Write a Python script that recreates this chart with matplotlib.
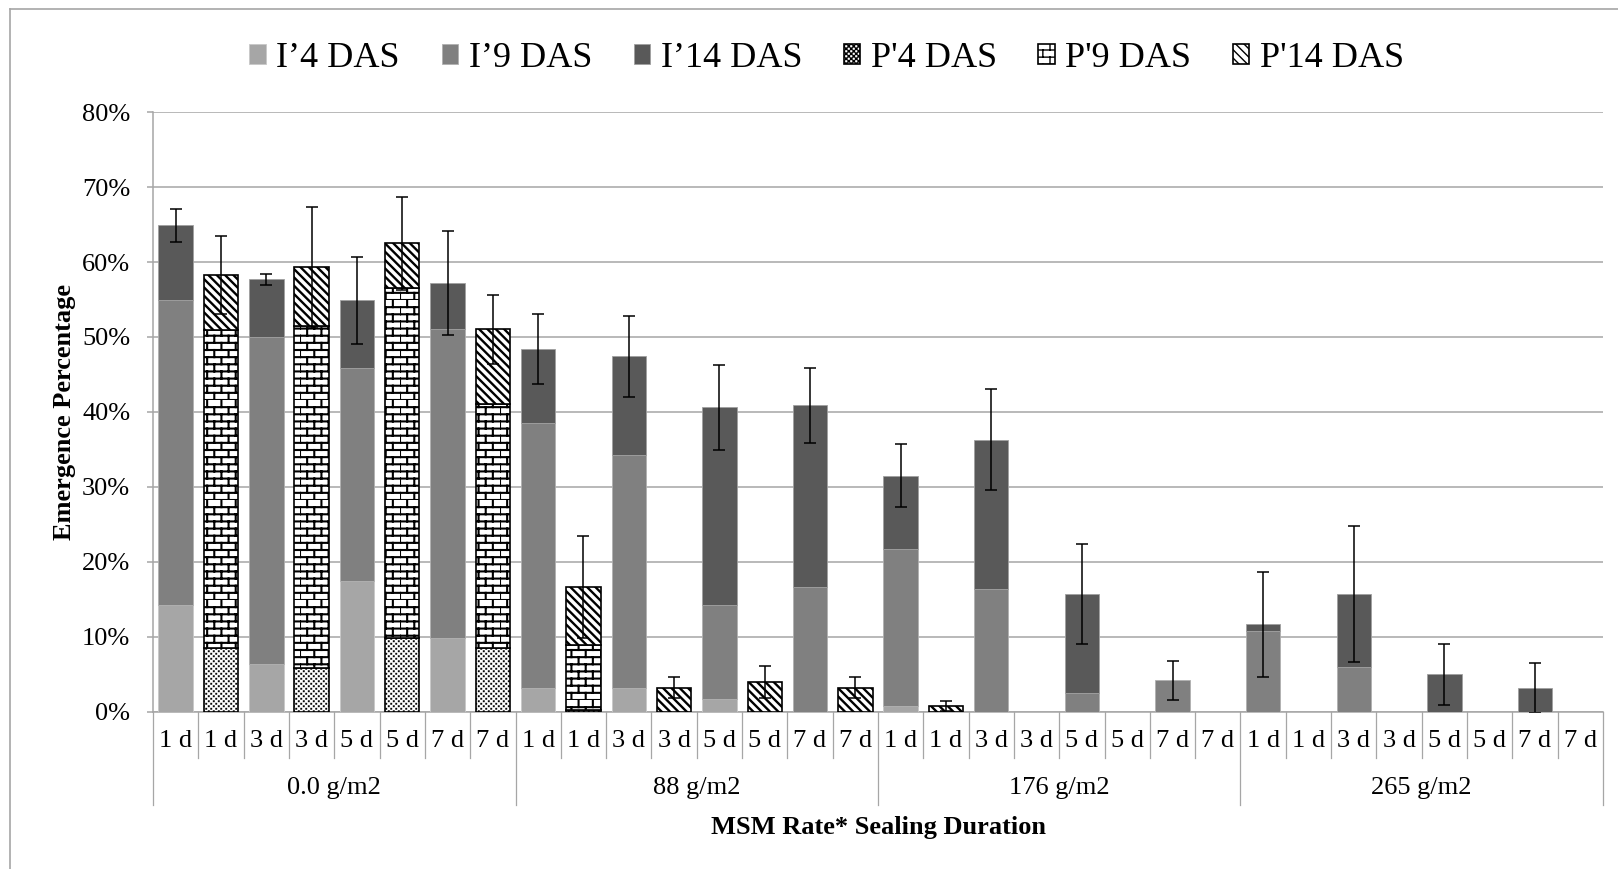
import warnings
import numpy as np
import matplotlib
matplotlib.use('Agg')
import matplotlib.pyplot as plt
import matplotlib.hatch as mhatch
from matplotlib.path import Path
from matplotlib.lines import Line2D
from matplotlib.ticker import PercentFormatter

warnings.filterwarnings('ignore')

groups = ['0.0 g/m2', '88 g/m2', '176 g/m2', '265 g/m2']
days = ['1 d', '1 d', '3 d', '3 d', '5 d', '5 d', '7 d', '7 d']

# I bars (1, 3, 5, 7 d for each rate), stacked parts in %
i_4 = [14.2, 6.4, 17.4, 9.9, 3.2, 3.2, 1.7, 0.0, 0.8, 0.0, 0.0, 0.0, 0.0, 0.0, 0.0, 0.0]
i_9 = [40.8, 43.6, 28.4, 41.1, 35.3, 31.0, 12.5, 16.6, 20.9, 16.4, 2.5, 4.2, 10.8, 6.0, 0.0, 0.0]
i_14 = [9.9, 7.7, 9.1, 6.2, 9.9, 13.2, 26.4, 24.3, 9.8, 19.9, 13.2, 0.0, 0.9, 9.7, 5.0, 3.2]
i_err = [2.2, 0.75, 5.8, 7.0, 4.7, 5.45, 5.7, 5.0, 4.2, 6.7, 6.7, 2.55, 7.0, 9.1, 4.05, 3.3]

# P bars
p_4 = [8.5, 5.9, 9.9, 8.5, 0.3, 0.0, 0.0, 0.0, 0.0, 0.0, 0.0, 0.0, 0.0, 0.0, 0.0, 0.0]
p_9 = [42.4, 45.5, 46.6, 32.5, 8.6, 0.0, 0.0, 0.0, 0.0, 0.0, 0.0, 0.0, 0.0, 0.0, 0.0, 0.0]
p_14 = [7.4, 7.9, 6.0, 10.0, 7.8, 3.2, 4.0, 3.2, 0.8, 0.0, 0.0, 0.0, 0.0, 0.0, 0.0, 0.0]
p_err = [5.2, 8.1, 6.2, 4.6, 6.8, 1.4, 2.1, 1.4, 0.7, 0.0, 0.0, 0.0, 0.0, 0.0, 0.0, 0.0]

legend_labels = ['I\u20194 DAS', 'I\u20199 DAS', 'I\u201914 DAS', "P'4 DAS", "P'9 DAS", "P'14 DAS"]


# brick and checker hatches (not in matplotlib)
class BrickHatch(mhatch.HatchPatternBase):
    def __init__(self, hatch, density):
        self.rows = 14 if 'b' in hatch else 0
        self.cols = 7
        self.num_vertices = self.rows * (self.cols + 1) * 2

    def set_vertices_and_codes(self, vertices, codes):
        k = 0
        for i in range(self.rows):
            y0 = i / self.rows
            y1 = (i + 1) / self.rows
            vertices[k] = (0, y0)
            vertices[k + 1] = (1, y0)
            k += 2
            for j in range(self.cols):
                x = (j + 0.5 * (i % 2)) / self.cols
                vertices[k] = (x, y0)
                vertices[k + 1] = (x, y1)
                k += 2
        codes[0::2] = Path.MOVETO
        codes[1::2] = Path.LINETO


class CheckHatch(mhatch.HatchPatternBase):
    def __init__(self, hatch, density):
        self.n = 40 if 'c' in hatch else 0
        self.cells = [(i, j) for i in range(self.n) for j in range(self.n) if (i + j) % 2 == 0]
        self.num_vertices = len(self.cells) * 5

    def set_vertices_and_codes(self, vertices, codes):
        s = 1.0 / self.n
        h = s * 0.29
        k = 0
        for i, j in self.cells:
            cx = (i + 0.5) * s
            cy = (j + 0.5) * s
            vertices[k:k + 5] = [(cx - h, cy - h), (cx + h, cy - h), (cx + h, cy + h),
                                 (cx - h, cy + h), (cx - h, cy - h)]
            codes[k] = Path.MOVETO
            codes[k + 1:k + 4] = Path.LINETO
            codes[k + 4] = Path.CLOSEPOLY
            k += 5


mhatch._hatch_types.append(BrickHatch)
mhatch._hatch_types.append(CheckHatch)

plt.rcParams['font.family'] = ['Liberation Serif', 'DejaVu Serif']
plt.rcParams['hatch.color'] = 'black'

fig = plt.figure(figsize=(16.18, 8.69), dpi=100)
ax = fig.add_axes([0.0946, 0.1807, 0.8961, 0.6904])

x = np.arange(32)
ix = x[0::2]
px = x[1::2]
width = 0.76
gray_line = '#A6A6A6'

i_styles = [
    dict(fc='#A6A6A6', ec='#C8C8C8', lw=0.6, hatch=None, hlw=1.0),
    dict(fc='#808080', ec='#B0B0B0', lw=0.6, hatch=None, hlw=1.0),
    dict(fc='#595959', ec='#A0A0A0', lw=0.6, hatch=None, hlw=1.0),
]
p_styles = [
    dict(fc='white', ec='black', lw=1.2, hatch='c', hlw=0.3),
    dict(fc='white', ec='black', lw=1.2, hatch='b', hlw=1.5),
    dict(fc='white', ec='black', lw=1.2, hatch='\\\\\\\\', hlw=1.7),
]


def stack(xs, parts, styles):
    bottom = np.zeros(len(xs))
    conts = []
    for vals, st in zip(parts, styles):
        vals = np.array(vals)
        ec = [st['ec'] if v > 0 else 'none' for v in vals]
        with plt.rc_context({'hatch.linewidth': st['hlw']}):
            b = ax.bar(xs, vals, width, bottom=bottom, color=st['fc'], edgecolor=ec,
                       hatch=st['hatch'], linewidth=st['lw'], zorder=3)
        bottom = bottom + vals
        conts.append(b)
    return conts, bottom


i_bars, i_tot = stack(ix, [i_4, i_9, i_14], i_styles)
p_bars, p_tot = stack(px, [p_4, p_9, p_14], p_styles)

# error bars
ex = np.concatenate([ix, px])
ey = np.concatenate([i_tot, p_tot])
ee = np.array(i_err + p_err)
m = ee > 0
ax.errorbar(ex[m], ey[m], yerr=ee[m], fmt='none', ecolor='black', elinewidth=1.1,
            capsize=4.5, capthick=1.1, zorder=5)

ax.set_xlim(-0.5, 31.5)
ax.set_ylim(0, 80)
ax.set_yticks(np.arange(0, 81, 10))
ax.yaxis.set_major_formatter(PercentFormatter(decimals=0))
ax.yaxis.grid(True, color=gray_line, linewidth=1.1)
ax.set_axisbelow(True)
for s in ['top', 'right']:
    ax.spines[s].set_visible(False)
ax.spines['left'].set_color(gray_line)
ax.spines['bottom'].set_color(gray_line)
ax.spines['left'].set_linewidth(1.1)
ax.spines['bottom'].set_linewidth(1.1)
ax.tick_params(axis='y', colors=gray_line, length=4.5, width=1.1, labelsize=19,
               labelcolor='black', pad=12)

# two-level category axis
ax.set_xticks(x)
ax.set_xticklabels(days * 4, fontsize=19)
ax.tick_params(axis='x', length=0, pad=13)
tr = ax.get_xaxis_transform()
for k in range(33):
    xb = k - 0.5
    low = -0.155 if k % 8 == 0 else -0.077
    ax.plot([xb, xb], [0, low], transform=tr, color=gray_line, lw=0.9, clip_on=False)
for g, name in enumerate(groups):
    ax.text(g * 8 + 3.5, -0.126, name, transform=tr, ha='center', va='center', fontsize=19)

ax.set_xlabel('MSM Rate* Sealing Duration', fontsize=19, fontweight='bold')
ax.xaxis.set_label_coords(0.5, -0.174)
ax.set_ylabel('Emergence Percentage', fontsize=19, fontweight='bold')
ax.yaxis.set_label_coords(-0.053, 0.5)

handles = [c for c in i_bars] + [c for c in p_bars]
fig.legend(handles, legend_labels, loc='center', bbox_to_anchor=(0.511, 0.933), ncol=6,
           frameon=False, fontsize=26, handlelength=0.45, handleheight=0.45,
           handletextpad=0.3, columnspacing=1.15, borderaxespad=0)

# chart area border (left and top only, rest cropped off)
fig.add_artist(Line2D([10 / 1618, 10 / 1618], [0, 1 - 9 / 869], transform=fig.transFigure,
                      color=gray_line, lw=1.2))
fig.add_artist(Line2D([10 / 1618, 1], [1 - 9 / 869, 1 - 9 / 869], transform=fig.transFigure,
                      color=gray_line, lw=1.2))

fig.savefig('out.png', dpi=100)
